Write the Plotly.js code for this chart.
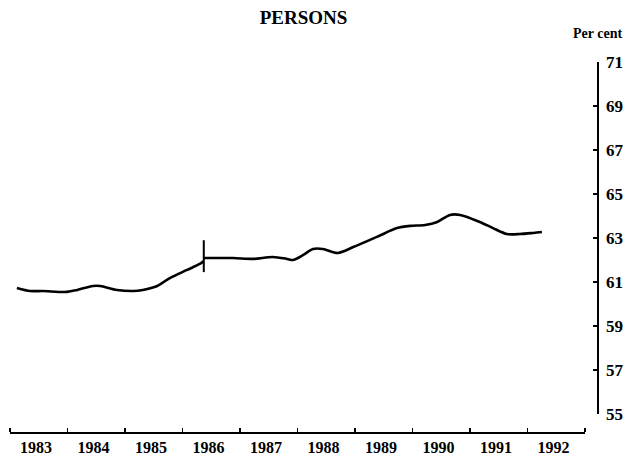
<!DOCTYPE html>
<html>
<head>
<meta charset="utf-8">
<script src="https://cdn.plot.ly/plotly-3.0.1.min.js"></script>
<style>html,body{margin:0;padding:0;background:#fff;}</style>
</head>
<body>
<div id="chart" style="width:632px;height:464px;"></div>
<script>
// Participation rate, persons (per cent) — series before the 1986 break
const xBefore = [1983.12, 1983.35, 1983.57, 1983.99, 1984.17, 1984.44, 1984.57, 1984.86, 1985.14, 1985.31, 1985.56, 1985.78, 1986.08, 1986.30, 1986.37];
const yBefore = [60.73, 60.59, 60.59, 60.55, 60.64, 60.82, 60.82, 60.64, 60.59, 60.64, 60.82, 61.18, 61.55, 61.82, 61.95];
// series after the break
const xAfter = [1986.37, 1986.43, 1986.88, 1987.23, 1987.57, 1987.82, 1987.92, 1988.10, 1988.27, 1988.44, 1988.70, 1988.97, 1989.38, 1989.73, 1989.96, 1990.22, 1990.43, 1990.65, 1990.83, 1991.17, 1991.40, 1991.64, 1991.87, 1992.10, 1992.25];
const yAfter = [62.09, 62.09, 62.09, 62.05, 62.14, 62.05, 62.0, 62.23, 62.5, 62.5, 62.32, 62.59, 63.05, 63.45, 63.55, 63.59, 63.73, 64.05, 64.05, 63.73, 63.45, 63.18, 63.18, 63.23, 63.27];
// break marker
const breakX = [1986.37, 1986.37];
const breakY = [61.45, 62.9];

const years = [1983, 1984, 1985, 1986, 1987, 1988, 1989, 1990, 1991, 1992];
const yTicks = [55, 57, 59, 61, 63, 65, 67, 69, 71];

const font = 'Liberation Serif, Times New Roman, serif';
const line = {color: '#000', width: 2.6, shape: 'spline', smoothing: 0.8};

const traces = [
  {x: xBefore, y: yBefore, mode: 'lines', line: line, hoverinfo: 'skip', showlegend: false},
  {x: xAfter, y: yAfter, mode: 'lines', line: line, hoverinfo: 'skip', showlegend: false},
  {x: breakX, y: breakY, mode: 'lines', line: {color: '#000', width: 2}, hoverinfo: 'skip', showlegend: false}
];

const layout = {
  width: 632, height: 464,
  margin: {l: 10, r: 35, t: 62, b: 32},
  paper_bgcolor: '#fff', plot_bgcolor: '#fff',
  showlegend: false,
  font: {family: font, color: '#000'},
  title: {text: '<b>PERSONS</b>', font: {family: font, size: 19, color: '#000'}, x: 0.5, xanchor: 'center', y: 0.962, yanchor: 'middle', xref: 'paper'},
  xaxis: {
    range: [1983, 1993],
    domain: [0, 0.9796],
    anchor: 'free', position: 0,
    showgrid: false, zeroline: false,
    showline: true, linecolor: '#000', linewidth: 1.6,
    tickmode: 'array',
    tickvals: years.map(v => v + 0.45),
    ticktext: years.map(v => '<b>' + v + '</b>'),
    ticks: '',
    tickfont: {family: font, size: 16, color: '#000'},
    minor: {tickmode: 'array', tickvals: years.concat([1993]), ticks: 'inside', ticklen: 4, tickwidth: 1.5, tickcolor: '#000', showgrid: false}
  },
  yaxis: {
    range: [55, 71],
    domain: [0.0486, 1],
    side: 'right', anchor: 'free', position: 1,
    showgrid: false, zeroline: false,
    showline: true, linecolor: '#000', linewidth: 1.6,
    tickmode: 'array',
    tickvals: yTicks,
    ticktext: yTicks.map(v => '<b>' + v + '</b>'),
    ticks: 'inside', ticklen: 4, tickwidth: 1.5, tickcolor: '#000',
    tickfont: {family: font, size: 17, color: '#000'},
    ticklabelstandoff: 4
  },
  annotations: [
    {text: '<b>Per cent</b>', xref: 'paper', yref: 'paper', x: 1.0, y: 1, yshift: 29, xanchor: 'center', yanchor: 'middle', showarrow: false, font: {family: font, size: 14, color: '#000'}}
  ]
};

Plotly.newPlot('chart', traces, layout, {staticPlot: true, displayModeBar: false});
</script>
</body>
</html>
